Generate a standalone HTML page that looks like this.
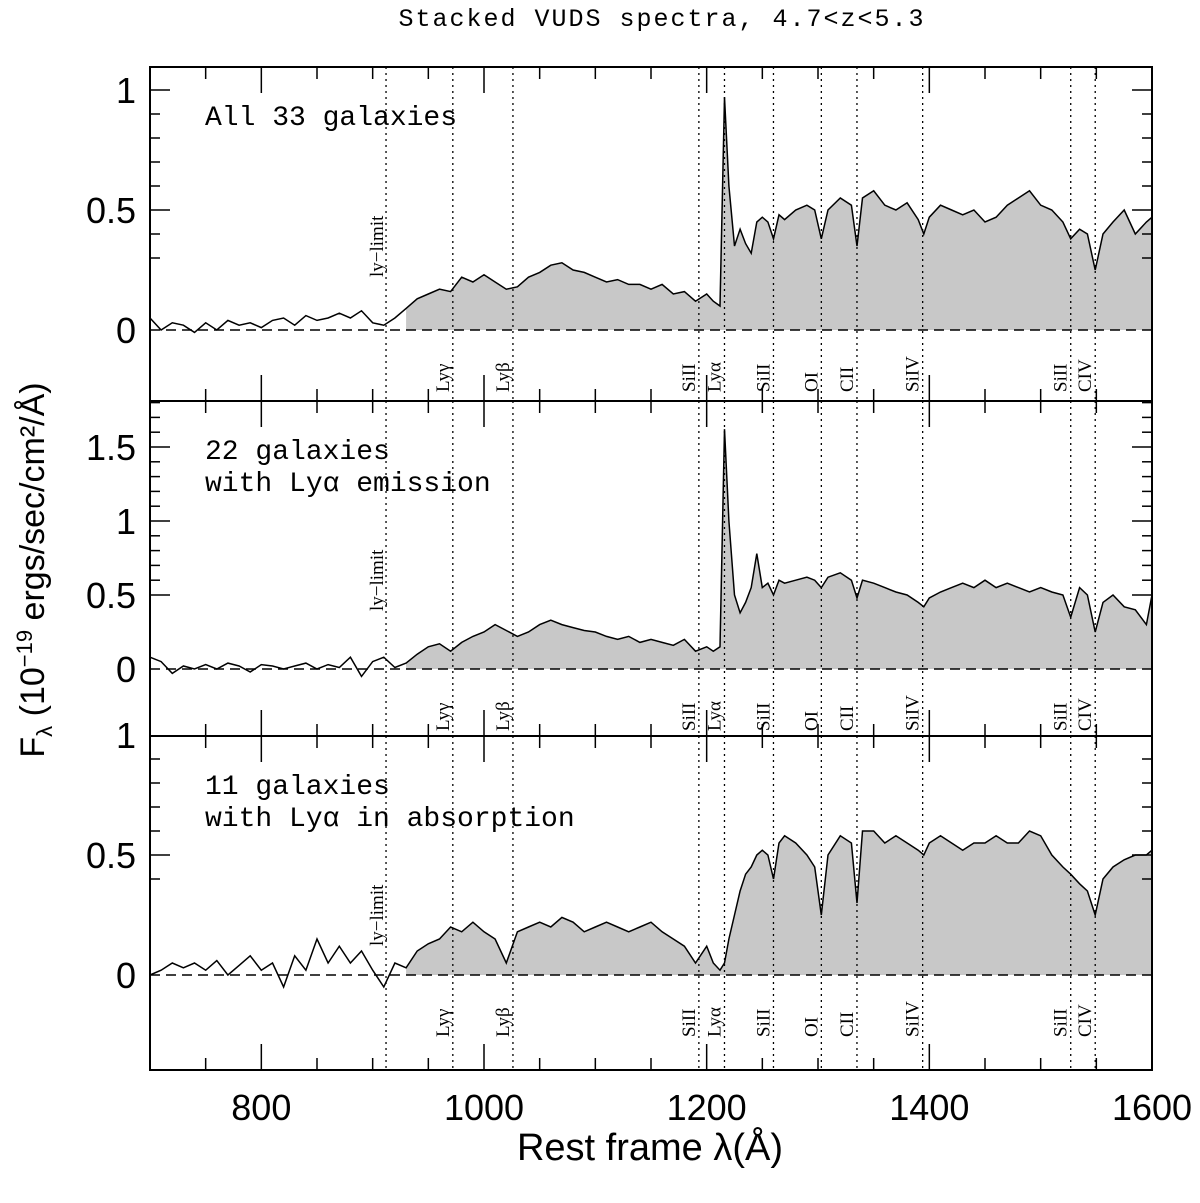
<!DOCTYPE html>
<html><head><meta charset="utf-8"><style>
body{margin:0;background:#fff;}
svg text{font-family:"Liberation Serif","DejaVu Serif",serif;fill:#000;}
svg text.sans{font-family:"Liberation Sans","DejaVu Sans",sans-serif;}
svg text.mono{font-family:"Liberation Mono","DejaVu Sans Mono",monospace;}
</style></head><body>
<svg id="chart" width="1200" height="1198" viewBox="0 0 1200 1198" xmlns="http://www.w3.org/2000/svg">
<text class="mono" x="662" y="26" font-size="25" letter-spacing="2" text-anchor="middle">Stacked VUDS spectra, 4.7&lt;z&lt;5.3</text>
<text class="sans" x="650" y="1160" font-size="38" text-anchor="middle">Rest frame λ(Å)</text>
<text class="sans" transform="translate(44,570) rotate(-90)" font-size="34" text-anchor="middle">F<tspan font-size="22" dy="8">λ</tspan><tspan dy="-8"> (10</tspan><tspan font-size="22" dy="-12">−19</tspan><tspan dy="12"> ergs/sec/cm²/Å)</tspan></text>
<g id="plots"></g>
</svg>
<script>
const wavelengths=[700,710,720,730,740,750,760,770,780,790,800,810,820,830,840,850,860,870,880,890,900,910,920,930,940,950,960,970,980,990,1000,1010,1020,1030,1040,1050,1060,1070,1080,1090,1100,1110,1120,1130,1140,1150,1160,1170,1180,1190,1200,
1206,1212,1216,1220,1225,1230,1235,1240,1245,1250,1255,1260,1265,1270,1280,1290,1297,1303,1309,1320,1330,1335,1340,1350,1360,1370,1380,1390,1395,1400,1410,1420,1430,1440,1450,1460,1470,1480,1490,1500,1510,1520,1527,1535,1542,1549,1556,1565,1575,1585,1595,1600];
const fluxAll=[0.05,0.0,0.03,0.02,-0.01,0.03,0.0,0.04,0.02,0.03,0.01,0.04,0.05,0.02,0.06,0.04,0.05,0.07,0.05,0.08,0.03,0.02,0.05,0.09,0.13,0.15,0.17,0.16,0.22,0.2,0.23,0.2,0.17,0.18,0.22,0.24,0.27,0.28,0.25,0.24,0.22,0.2,0.21,0.19,0.19,0.17,0.19,0.15,0.16,0.12,0.15,
0.12,0.1,0.97,0.6,0.35,0.42,0.36,0.32,0.45,0.47,0.45,0.38,0.48,0.46,0.5,0.52,0.5,0.38,0.5,0.55,0.52,0.35,0.55,0.58,0.52,0.5,0.53,0.46,0.4,0.47,0.52,0.5,0.48,0.5,0.45,0.47,0.52,0.55,0.58,0.52,0.5,0.45,0.38,0.42,0.4,0.25,0.4,0.45,0.5,0.4,0.45,0.47];
const fluxEmission=[0.08,0.05,-0.03,0.02,0.0,0.03,0.0,0.04,0.02,-0.02,0.03,0.02,0.0,0.02,0.04,0.0,0.03,0.01,0.08,-0.05,0.05,0.08,0.01,0.04,0.1,0.15,0.17,0.12,0.18,0.22,0.25,0.3,0.26,0.22,0.25,0.3,0.33,0.3,0.28,0.26,0.25,0.22,0.2,0.22,0.18,0.2,0.18,0.16,0.2,0.12,0.15,
0.12,0.15,1.62,1.0,0.5,0.38,0.45,0.55,0.78,0.55,0.58,0.5,0.6,0.58,0.6,0.62,0.6,0.55,0.62,0.65,0.6,0.48,0.6,0.58,0.55,0.52,0.5,0.45,0.42,0.48,0.52,0.55,0.58,0.55,0.6,0.55,0.58,0.55,0.52,0.55,0.52,0.5,0.35,0.55,0.5,0.25,0.45,0.5,0.42,0.4,0.3,0.5];
const fluxAbsorption=[0.0,0.02,0.05,0.03,0.05,0.02,0.06,0.0,0.04,0.08,0.02,0.05,-0.05,0.08,0.02,0.15,0.05,0.12,0.05,0.1,0.02,-0.05,0.05,0.03,0.1,0.13,0.15,0.2,0.18,0.22,0.18,0.15,0.05,0.18,0.2,0.22,0.2,0.24,0.22,0.18,0.2,0.22,0.2,0.18,0.2,0.22,0.18,0.15,0.12,0.05,0.12,
0.05,0.02,0.05,0.15,0.25,0.35,0.42,0.45,0.5,0.52,0.5,0.4,0.55,0.58,0.55,0.5,0.45,0.25,0.5,0.58,0.55,0.3,0.6,0.6,0.55,0.58,0.55,0.52,0.5,0.55,0.58,0.55,0.52,0.55,0.55,0.58,0.55,0.55,0.6,0.58,0.5,0.45,0.42,0.38,0.35,0.25,0.4,0.45,0.48,0.5,0.5,0.52];
const lineWaves=[972,1026,1193,1216,1260,1303,1335,1394,1527,1549];
const lineNames=["Lyγ","Lyβ","SiII","Lyα","SiII","OI","CII","SiIV","SiII","CIV"];
const xTicks=[800,1000,1200,1400,1600];
const panelLabels=[["All 33 galaxies"],["22 galaxies","with Lyα emission"],["11 galaxies","with Lyα in absorption"]];
const yTicksAll=[0,0.5,1];
const yTicksEm=[0,0.5,1,1.5];
const yTicksAbs=[0,0.5,1];

const NS="http://www.w3.org/2000/svg";
const X0=150,X1=1152,WMIN=700,WMAX=1600;
const xs=w=>X0+(w-WMIN)*(X1-X0)/(WMAX-WMIN);
const g=document.getElementById('plots');
function el(tag,attrs,parent){const e=document.createElementNS(NS,tag);for(const k in attrs)e.setAttribute(k,attrs[k]);(parent||g).appendChild(e);return e;}
const panels=[
 {top:67,bot:401,zero:330,ppu:240,flux:fluxAll,ticks:yTicksAll,name:'all'},
 {top:401,bot:736,zero:669,ppu:148,flux:fluxEmission,ticks:yTicksEm,name:'emission'},
 {top:736,bot:1070,zero:975,ppu:240,flux:fluxAbsorption,ticks:yTicksAbs,name:'absorption'}];
panels.forEach((p,pi)=>{
 const ys=v=>p.zero-v*p.ppu;
 const pg=el('g',{});
 
 
 let pts=[];
 wavelengths.forEach((w,i)=>{if(w>=930)pts.push(xs(w).toFixed(1)+','+ys(p.flux[i]).toFixed(1));});
 const poly=el('polygon',{points:xs(930)+','+p.zero+' '+pts.join(' ')+' '+xs(1600)+','+p.zero,fill:'#c8c8c8',stroke:'none'},pg);
 
 
 el('line',{x1:X0,x2:X1,y1:p.zero,y2:p.zero,stroke:'#000','stroke-width':1.5,'stroke-dasharray':'10,6'},pg);
 const line=el('polyline',{points:wavelengths.map((w,i)=>xs(w).toFixed(1)+','+ys(p.flux[i]).toFixed(1)).join(' '),fill:'none',stroke:'#000','stroke-width':1.5},pg);
 
 
 [912].concat(lineWaves).forEach(w=>el('line',{x1:xs(w),x2:xs(w),y1:p.top,y2:p.bot,stroke:'#000','stroke-width':1.3,'stroke-dasharray':'2,4'},pg));
 lineNames.forEach((n,i)=>{
  const t=el('text',{transform:`translate(${xs(lineWaves[i])-4},${p.zero+62}) rotate(-90)`,'font-size':19},pg);
  t.textContent=n;
  
  
 });
 const ll=el('text',{transform:`translate(${xs(912)-3},${p.top+210}) rotate(-90)`,'font-size':19},pg);
 ll.textContent='ly−limit';
 
 
 panelLabels[pi].forEach((s,k)=>{
  const t=el('text',{x:205,y:p.top+58+k*32,'font-size':28,'class':'mono'},pg);
  t.textContent=s;
  
  
 });
 el('rect',{x:X0,y:p.top,width:X1-X0,height:p.bot-p.top,fill:'none',stroke:'#000','stroke-width':2},pg);
 const vmin=(p.zero-p.bot)/-p.ppu, vmax=(p.zero-p.top)/p.ppu;
 for(let v=Math.ceil(vmin*10)/10;v<=vmax+1e-9;v+=0.1){
  const vv=Math.round(v*10)/10; const maj=Math.abs(vv*2-Math.round(vv*2))<1e-6;
  const L=maj?20:10;
  el('line',{x1:X0,x2:X0+L,y1:ys(vv),y2:ys(vv),stroke:'#000','stroke-width':1.5},pg);
  el('line',{x1:X1,x2:X1-L,y1:ys(vv),y2:ys(vv),stroke:'#000','stroke-width':1.5},pg);
 }
 p.ticks.forEach(v=>{
  const t=el('text',{x:136,y:ys(v)+13,'font-size':36,'text-anchor':'end','class':'sans'},pg);
  t.textContent=String(v);
  
  
 });
 for(let w=700;w<=1600;w+=50){
  const maj=w%200===0; const L=maj?26:12;
  el('line',{x1:xs(w),x2:xs(w),y1:p.bot,y2:p.bot-L,stroke:'#000','stroke-width':1.5},pg);
  el('line',{x1:xs(w),x2:xs(w),y1:p.top,y2:p.top+L,stroke:'#000','stroke-width':1.5},pg);
 }
});
xTicks.forEach(w=>{
 const t=el('text',{x:xs(w),y:1120,'font-size':36,'text-anchor':'middle','class':'sans'});
 t.textContent=String(w);
 
 
});
</script>
</body></html>
